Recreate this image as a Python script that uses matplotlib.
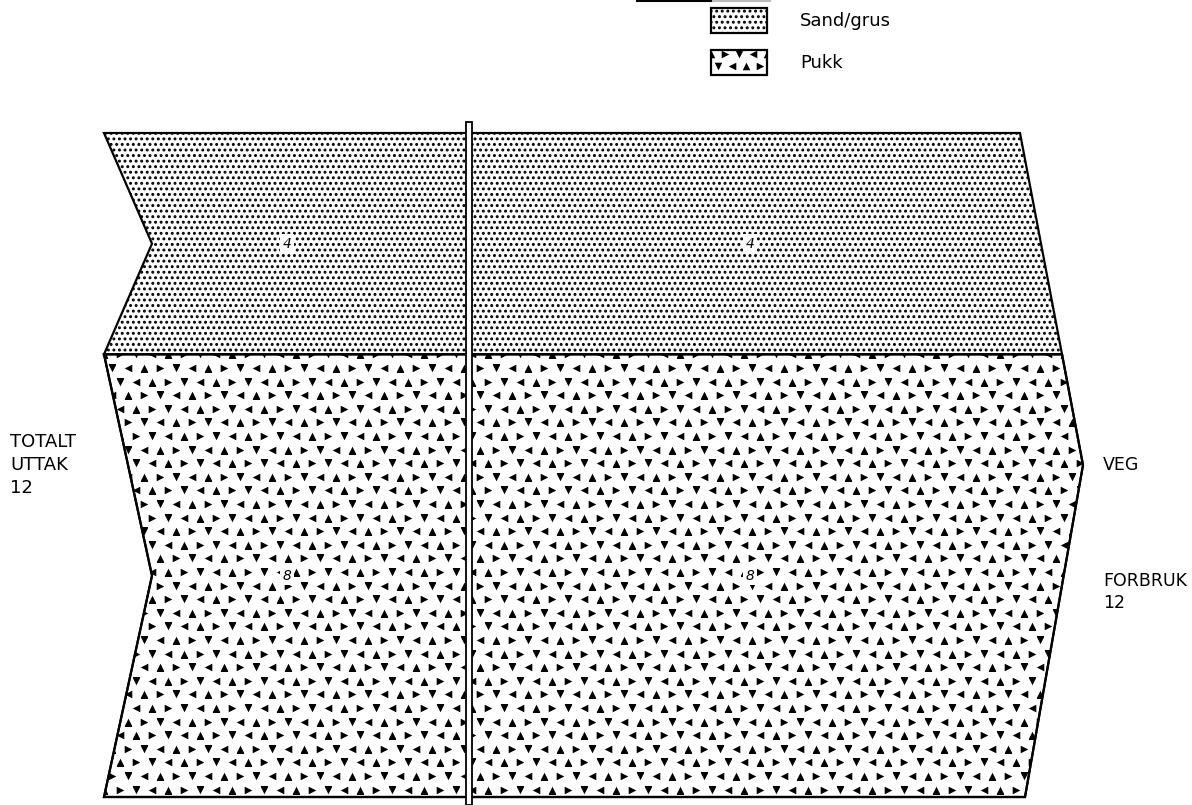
"""Flow diagram: total extraction of sand/gravel and crushed rock to road use."""

import matplotlib

matplotlib.use("Agg")
import matplotlib.pyplot as plt
import numpy as np
from matplotlib.patches import Polygon, Rectangle

# data
materials = ["Sand/grus", "Pukk"]
uttak = [4, 8]          # totalt uttak per material
forbruk = [4, 8]        # forbruk veg per material
source_label = ["TOTALT", "UTTAK"]
target_label = ["VEG", "FORBRUK"]

total = sum(uttak)

W, H = 1192, 805
TOP_PX, BOT_PX = 133, 797
k = (BOT_PX - TOP_PX) / total      # pixels per unit

plt.rcParams["hatch.linewidth"] = 1.35
plt.rcParams["font.family"] = ["DejaVu Sans"]

fig = plt.figure(figsize=(W / 100, H / 100), dpi=100)
ax = fig.add_axes([0, 0, 1, 1])
ax.set_xlim(0, W)
ax.set_ylim((H - TOP_PX) / k, -TOP_PX / k)
ax.axis("off")

X_LEFT, NOTCH = 104, 48
X_RTOP, X_TIP, X_RBOT = 1020, 1083, 1025


def right_x(v):
    mid = total / 2
    if v <= mid:
        return X_RTOP + (X_TIP - X_RTOP) * v / mid
    return X_TIP - (X_TIP - X_RBOT) * (v - mid) / mid


def pukk_texture(axis, clip, x0, x1, y0, y1, step, per_unit):
    """Crushed-rock symbol: small triangles on a staggered grid."""
    rows = np.arange(y0, y1 + step / per_unit, 0.85 * step / per_unit)
    pts = {"^": [], "v": [], ">": [], "<": []}
    kinds = ["^", ">", "v", "<"]
    for j, y in enumerate(rows):
        xs = np.arange(x0, x1 + step, step) + (j % 2) * step / 2
        for i, x in enumerate(xs):
            pts[kinds[(i + 2 * j + (j // 2)) % 4]].append((x, y))
    for m, p in pts.items():
        p = np.array(p)
        sc = axis.scatter(p[:, 0], p[:, 1], marker=m, s=30, c="black",
                          linewidths=0, zorder=2)
        sc.set_clip_path(clip)


# bands
bottoms = np.cumsum(uttak)
tops = bottoms - np.array(uttak)
for name, y0, y1 in zip(materials, tops, bottoms):
    mid = (y0 + y1) / 2
    verts = [(X_LEFT, y0), (right_x(y0), y0)]
    if y0 < total / 2 < y1:
        verts.append((X_TIP, total / 2))
    verts += [(right_x(y1), y1), (X_LEFT, y1), (X_LEFT + NOTCH, mid)]
    if name == "Sand/grus":
        poly = Polygon(verts, closed=True, facecolor="white",
                       edgecolor="black", hatch="...", linewidth=1.6, zorder=1)
        ax.add_patch(poly)
    else:
        poly = Polygon(verts, closed=True, facecolor="white",
                       edgecolor="black", linewidth=1.6, zorder=1)
        ax.add_patch(poly)
        pukk_texture(ax, poly, X_LEFT, X_TIP, y0, y1, 16, k)
        edge = Polygon(verts, closed=True, fill=False, edgecolor="black",
                       linewidth=1.6, zorder=3)
        ax.add_patch(edge)

# values inside bands, on both sides of the divider
for val, y0, y1 in zip(uttak, tops, bottoms):
    for xc in (287, 750):
        ax.text(xc, (y0 + y1) / 2, str(val), fontsize=10, ha="center",
                va="center", zorder=4, style="italic",
                bbox=dict(boxstyle="square,pad=0.2", fc="white", ec="none"))

# divider (double line)
ax.add_patch(Rectangle((466, -11 / k), 6, (H - TOP_PX + 11) / k,
                       facecolor="white", edgecolor="black", linewidth=1.3,
                       zorder=5))

# side labels
ax.text(10, total / 2, "\n".join(source_label + [str(total)]), fontsize=13,
        ha="left", va="center", linespacing=1.35)
ax.text(1103, total / 2, target_label[0], fontsize=12.5, ha="left",
        va="center")
ax.text(1103, (592 - TOP_PX) / k, f"{target_label[1]}\n{sum(forbruk)}",
        fontsize=12.5, ha="left", va="center", linespacing=1.35)

# legend, pixel coordinates
lg = fig.add_axes([0, 0, 1, 1])
lg.set_xlim(0, W)
lg.set_ylim(H, 0)
lg.axis("off")
lg.plot([637, 713], [0.8, 0.8], color="black", linewidth=1.5)
lg.plot([713, 770], [0.8, 0.8], color="#bbbbbb", linewidth=1.5)
for i, name in enumerate(materials):
    y = 8 + 42 * i
    box = Rectangle((711, y), 56, 25, facecolor="white", edgecolor="black",
                    linewidth=1.6, hatch="..." if i == 0 else None, zorder=1)
    lg.add_patch(box)
    if i == 1:
        pukk_texture(lg, box, 711, 767, y + 4, y + 25, 14, 1)
    lg.text(800, y + 12.5, name, fontsize=13, ha="left", va="center")

fig.savefig("out.png", dpi=100)
